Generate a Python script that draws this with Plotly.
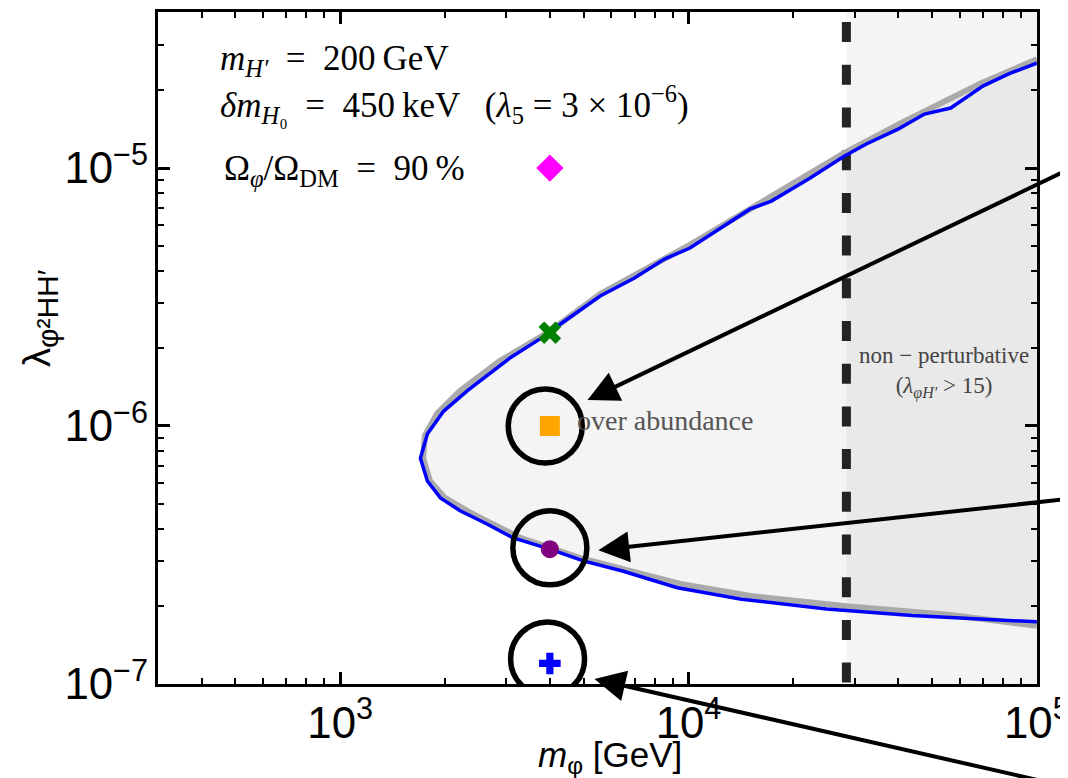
import numpy as np
import plotly.graph_objects as go

# ---------------- data ----------------
# blue contour (Omega_phi/Omega_DM = 90 %), traced from top-right around the tip to bottom-right
blue_m = [1.0e5, 8.36e4, 7.0e4, 5.66e4, 4.76e4, 4.01e4, 3.24e4, 2.79e4, 2.23e4, 1.73e4,
          1.50e4, 1.24e4, 1.01e4, 8.53e3, 7.0e3, 5.58e3, 4.28e3, 4.0e3, 3.08e3, 2.32e3,
          1.98e3, 1.78e3, 1.70e3, 1.78e3, 1.94e3, 2.21e3, 2.64e3, 3.14e3, 4.0e3, 4.99e3,
          6.46e3, 9.29e3, 1.42e4, 2.49e4, 4.38e4, 1.0e5]
blue_lam = [2.55e-5, 2.33e-5, 2.08e-5, 1.71e-5, 1.62e-5, 1.42e-5, 1.24e-5, 1.11e-5, 9.14e-6, 7.45e-6,
            6.93e-6, 5.85e-6, 4.90e-6, 4.44e-6, 3.75e-6, 3.19e-6, 2.48e-6, 2.30e-6, 1.84e-6, 1.37e-6,
            1.14e-6, 9.3e-7, 7.5e-7, 6.12e-7, 5.26e-7, 4.69e-7, 4.17e-7, 3.68e-7, 3.33e-7, 3.0e-7,
            2.74e-7, 2.36e-7, 2.13e-7, 1.95e-7, 1.84e-7, 1.74e-7]

# smooth grey contour (behind the blue one), also bounding the over-abundance region
grey_m = [1.0e5, 6.90e4, 4.06e4, 2.79e4, 1.72e4, 1.01e4, 5.58e3, 4.0e3, 2.88e3, 2.21e3,
          1.90e3, 1.75e3, 1.73e3, 1.81e3, 2.0e3, 2.37e3, 3.29e3, 4.99e3, 9.48e3, 1.51e4,
          2.84e4, 5.66e4, 1.0e5]
grey_lam = [2.64e-5, 2.13e-5, 1.49e-5, 1.14e-5, 7.73e-6, 5.04e-6, 3.25e-6, 2.33e-6, 1.79e-6, 1.37e-6,
            1.12e-6, 9.15e-7, 7.5e-7, 6.12e-7, 5.26e-7, 4.6e-7, 3.68e-7, 3.05e-7, 2.44e-7, 2.19e-7,
            2.0e-7, 1.85e-7, 1.68e-7]

# benchmark points
bench_m = [4000, 4000, 4000, 4000, 4000]
bench_lam = [1.0e-5, 2.3e-6, 1.0e-6, 3.33e-7, 1.2e-7]
bench_symbol = ["diamond", "x", "square", "circle", "cross"]
bench_color = ["#ff00ff", "#008000", "#ffa500", "#800080", "#0000ff"]
bench_size = [21, 20, 20, 18, 18]

# highlighted benchmarks (circled) and arrow targets
circle_m = [3880, 4000, 3940]
circle_lam = [1.0e-6, 3.37e-7, 1.25e-7]
arrow_m = [5130, 5510, 5370]
arrow_lam = [1.26e-6, 3.30e-7, 1.045e-7]

# non-perturbative boundary
m_np = 2.84e4

x_range = [300, 1.0e5]
y_range = [1.0e-7, 4.03e-5]

SERIF = "Liberation Serif, Times New Roman, serif"
SANS = "Liberation Sans, Arial, sans-serif"

fig = go.Figure()

# over-abundance region
fig.add_trace(go.Scatter(x=grey_m, y=grey_lam, mode="lines", fill="toself",
                         fillcolor="rgba(0,0,0,0.045)", line=dict(color="#aaaaaa", width=6),
                         hoverinfo="skip", showlegend=False))
fig.add_trace(go.Scatter(x=blue_m, y=blue_lam, mode="lines",
                         line=dict(color="#0000ff", width=3.5),
                         hoverinfo="skip", showlegend=False))
for m, l, s, c, sz in zip(bench_m, bench_lam, bench_symbol, bench_color, bench_size):
    fig.add_trace(go.Scatter(x=[m], y=[l], mode="markers",
                             marker=dict(symbol=s, color=c, size=sz, line=dict(width=0)),
                             showlegend=False))
# black rings around highlighted benchmarks
fig.add_trace(go.Scatter(x=circle_m, y=circle_lam, mode="markers",
                         marker=dict(symbol="circle-open", size=74, color="black",
                                     line=dict(color="black", width=5.5)),
                         hoverinfo="skip", showlegend=False))

shapes = []
# non-perturbative band
shapes.append(dict(type="rect", xref="x", yref="paper", x0=m_np, x1=x_range[1], y0=0, y1=1,
                   fillcolor="rgba(0,0,0,0.045)", line=dict(width=0), layer="below"))
shapes.append(dict(type="line", xref="x", yref="paper", x0=m_np, x1=m_np, y0=0.985, y1=0,
                   line=dict(color="#252525", width=9, dash="20px,22.7px"), layer="below"))

annotations = []
tails = [(488, -234), (477, -52), (456, 104)]
for m, l, (ax, ay) in zip(arrow_m, arrow_lam, tails):
    annotations.append(dict(x=np.log10(m), y=np.log10(l), xref="x", yref="y", text="",
                            showarrow=True, arrowhead=2, arrowsize=1.55, arrowwidth=4,
                            arrowcolor="black", ax=ax, ay=ay, standoff=0))

# positions below are expressed relative to the plot frame (frame: 879 x 672 px)
txt_font = dict(family=SERIF, size=35, color="black")
x0p = 60 / 879
eq = "\u2002=\u2002"
annotations += [
    dict(xref="paper", yref="paper", x=x0p, y=(672 - 49) / 672, xanchor="left", yanchor="middle",
         showarrow=False, font=txt_font,
         text="<i>m</i><sub><i>H′</i></sub>" + eq + "200\u2009GeV"),
    dict(xref="paper", yref="paper", x=x0p, y=(672 - 93) / 672, xanchor="left", yanchor="middle",
         showarrow=False, font=txt_font,
         text="<i>δm</i><sub><i>H</i>₀</sub>" + eq + "450\u2009keV\u2002\u2009(<i>λ</i><sub>5</sub>"
              + "\u2005=\u2005" + "3 × 10<sup>−6</sup>)"),
    dict(xref="paper", yref="paper", x=64 / 879, y=(672 - 158) / 672, xanchor="left",
         yanchor="middle", showarrow=False, font=txt_font,
         text="Ω<sub><i>φ</i></sub>/Ω<sub>DM</sub>" + eq + "90\u2009%"),
    dict(xref="x", yref="y", x=np.log10(4730), y=np.log10(1.05e-6), xanchor="left", yanchor="middle",
         showarrow=False, font=dict(family=SERIF, size=28, color="#555555"),
         text="over abundance"),
    dict(xref="x", yref="y", x=np.log10(5.4e4), y=np.log10(1.61e-6), xanchor="center", yanchor="middle",
         showarrow=False, font=dict(family=SERIF, size=23, color="#444444"),
         text="non − perturbative<br>(<i>λ</i><sub><i>φH′</i></sub> > 15)"),
    # axis titles
    dict(xref="paper", yref="paper", x=452 / 879, y=-73 / 672,
         xanchor="center", yanchor="middle", showarrow=False,
         font=dict(family=SANS, size=35, color="black"),
         text="<i>m</i><sub>φ</sub> [GeV]"),
    dict(xref="paper", yref="paper", x=-118 / 879, y=(336 + 30) / 672, textangle=-90,
         xanchor="center", yanchor="middle", showarrow=False,
         font=dict(family=SANS, size=38, color="black"),
         text="λ<sub><span style='font-size:30px'>φ²HH′</span></sub>"),
]

axis_common = dict(type="log", showgrid=False, zeroline=False, showline=True, linecolor="black",
                   linewidth=3, mirror="allticks", ticks="inside", ticklen=12, tickwidth=3,
                   tickcolor="black", dtick=1, exponentformat="power", showexponent="all",
                   automargin=False,
                   tickfont=dict(family=SANS, size=35, color="black"),
                   minor=dict(ticks="inside", ticklen=6, tickwidth=2, tickcolor="black",
                              dtick="D1", showgrid=False))

fig.update_xaxes(**axis_common, range=[np.log10(x_range[0]), np.log10(x_range[1]) + 0.0005])
fig.update_yaxes(**axis_common, range=[np.log10(y_range[0]) - 0.0005, np.log10(y_range[1])])

# the page body adds an 8 px offset, so the margins compensate for it
fig.update_layout(width=1068, height=778, margin=dict(l=150, r=39, t=4, b=102),
                  paper_bgcolor="white", plot_bgcolor="white",
                  shapes=shapes, annotations=annotations, showlegend=False)

fig.write_html("out.html")
